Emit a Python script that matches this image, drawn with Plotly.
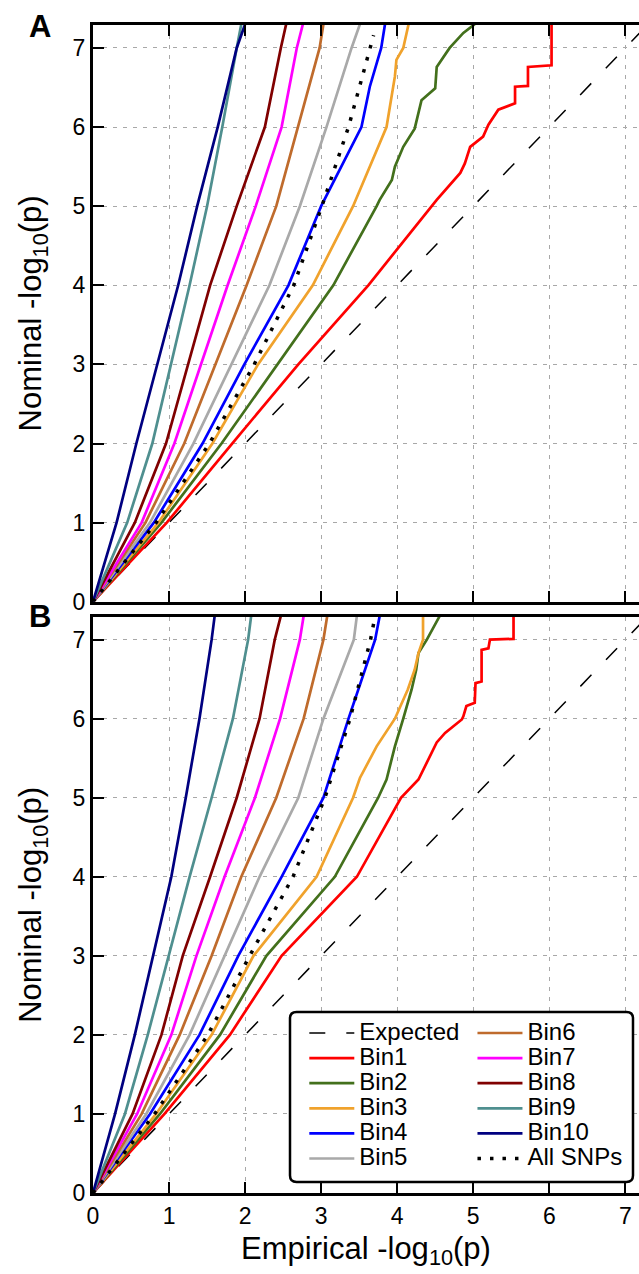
import plotly.graph_objects as go

# ---- data: empirical (x) vs nominal (y) -log10(p) quantiles ----
NOMINAL = [0, 1, 2, 3, 4, 5, 6, 7, 7.3]
EXPECTED = [0, 7.4]

# Panel A
A_BIN1_X = [0, 0.97, 1.83, 2.70, 3.62, 4.34, 4.45, 4.52, 4.83, 4.89, 4.96, 5.13, 5.20, 5.33, 5.55, 5.55, 5.72, 5.72, 6.03, 6.03]
A_BIN1_Y = [0, 1, 2, 3, 4, 4.87, 5, 5.08, 5.42, 5.54, 5.75, 5.88, 6.03, 6.22, 6.30, 6.51, 6.52, 6.76, 6.78, 7.3]
A_BIN2_X = [0, 0.90, 1.69, 2.42, 3.16, 3.73, 3.77, 3.93, 3.97, 4.08, 4.23, 4.32, 4.50, 4.52, 4.69, 4.87, 5.02]
A_BIN2_Y = [0, 1, 2, 3, 4, 5, 5.08, 5.33, 5.50, 5.75, 5.98, 6.34, 6.49, 6.76, 7.0, 7.19, 7.3]
A_BIN3_X = [0, 0.86, 1.57, 2.17, 2.89, 3.42, 3.86, 3.97, 3.99, 4.08, 4.15]
A_BIN3_Y = [0, 1, 2, 3, 4, 5, 6, 6.64, 6.85, 7, 7.3]
A_BIN4_X = [0, 0.80, 1.44, 1.99, 2.57, 3.00, 3.53, 3.64, 3.79, 3.84]
A_BIN4_Y = [0, 1, 2, 3, 4, 5, 6, 6.51, 7, 7.3]
A_BIN5 = [0, 0.75, 1.32, 1.82, 2.32, 2.72, 3.07, 3.40, 3.51]
A_BIN6 = [0, 0.69, 1.20, 1.61, 2.02, 2.41, 2.69, 2.98, 3.03]
A_BIN7 = [0, 0.64, 1.07, 1.42, 1.77, 2.14, 2.48, 2.68, 2.76]
A_BIN8 = [0, 0.55, 0.96, 1.25, 1.54, 1.89, 2.26, 2.47, 2.54]
A_BIN9 = [0, 0.45, 0.78, 1.03, 1.27, 1.50, 1.70, 1.89, 1.95]
A_BIN10 = [0, 0.31, 0.57, 0.85, 1.12, 1.37, 1.64, 1.89, 2.00]
A_ALL_X = [0, 0.83, 1.53, 2.12, 2.64, 3.01, 3.36, 3.64, 3.69]
A_ALL_Y = [0, 1, 2, 3, 4, 5, 6, 7, 7.16]

# Panel B
B_BIN1_X = [0, 0.94, 1.80, 2.48, 3.47, 4.05, 4.28, 4.34, 4.52, 4.63, 4.85, 4.87, 4.91, 5.02, 5.03, 5.11, 5.11, 5.20, 5.22, 5.53, 5.53]
B_BIN1_Y = [0, 1, 2, 3, 4, 5, 5.23, 5.35, 5.70, 5.82, 5.99, 6.03, 6.16, 6.20, 6.45, 6.47, 6.87, 6.89, 7.0, 7.01, 7.3]
B_BIN2_X = [0, 0.88, 1.67, 2.28, 3.18, 3.75, 3.86, 3.97, 4.08, 4.19, 4.25, 4.28, 4.39, 4.56]
B_BIN2_Y = [0, 1, 2, 3, 4, 5, 5.23, 5.65, 6, 6.37, 6.62, 6.83, 7, 7.3]
B_BIN3_X = [0, 0.83, 1.56, 2.11, 2.94, 3.42, 3.51, 3.73, 3.97, 4.14, 4.23, 4.28, 4.34, 4.34]
B_BIN3_Y = [0, 1, 2, 3, 4, 5, 5.25, 5.65, 6, 6.37, 6.62, 6.83, 7, 7.3]
B_BIN4 = [0, 0.75, 1.40, 1.91, 2.48, 3.03, 3.36, 3.71, 3.77]
B_BIN5 = [0, 0.70, 1.27, 1.73, 2.19, 2.70, 3.03, 3.43, 3.47]
B_BIN6 = [0, 0.64, 1.14, 1.56, 1.95, 2.41, 2.77, 3.03, 3.08]
B_BIN7 = [0, 0.58, 1.03, 1.36, 1.73, 2.13, 2.46, 2.72, 2.77]
B_BIN8 = [0, 0.52, 0.90, 1.18, 1.54, 1.89, 2.19, 2.39, 2.47]
B_BIN9 = [0, 0.42, 0.72, 0.99, 1.27, 1.56, 1.84, 2.04, 2.08]
B_BIN10 = [0, 0.29, 0.55, 0.79, 1.03, 1.22, 1.40, 1.56, 1.60]
B_ALL_X = [0, 0.81, 1.51, 2.06, 2.63, 3.05, 3.38, 3.65, 3.69]
B_ALL_Y = [0, 1, 2, 3, 4, 5, 6, 7, 7.2]

BIN_NAMES = ["Bin1", "Bin2", "Bin3", "Bin4", "Bin5", "Bin6", "Bin7", "Bin8", "Bin9", "Bin10"]
BIN_COLORS = ["#ff0000", "#43701c", "#f0a22c", "#0000ff", "#a9a9a9",
              "#bf6b2c", "#ff00ff", "#800000", "#4f8f8f", "#000080"]

panel_a = [(A_BIN1_X, A_BIN1_Y), (A_BIN2_X, A_BIN2_Y), (A_BIN3_X, A_BIN3_Y), (A_BIN4_X, A_BIN4_Y),
           (A_BIN5, NOMINAL), (A_BIN6, NOMINAL), (A_BIN7, NOMINAL), (A_BIN8, NOMINAL),
           (A_BIN9, NOMINAL), (A_BIN10, NOMINAL)]
panel_b = [(B_BIN1_X, B_BIN1_Y), (B_BIN2_X, B_BIN2_Y), (B_BIN3_X, B_BIN3_Y), (B_BIN4, NOMINAL),
           (B_BIN5, NOMINAL), (B_BIN6, NOMINAL), (B_BIN7, NOMINAL), (B_BIN8, NOMINAL),
           (B_BIN9, NOMINAL), (B_BIN10, NOMINAL)]

FONT = "Liberation Sans, Arial, sans-serif"
LEG_TXT = '<span style="font-size:24px">{}</span>'

fig = go.Figure()

for panel, (xa, ya), curves, (all_x, all_y) in [
        ("A", ("x", "y"), panel_a, (A_ALL_X, A_ALL_Y)),
        ("B", ("x2", "y2"), panel_b, (B_ALL_X, B_ALL_Y))]:
    show = panel == "B"
    fig.add_trace(go.Scatter(
        x=EXPECTED, y=EXPECTED, mode="lines", xaxis=xa, yaxis=ya,
        name=LEG_TXT.format("Expected"), showlegend=show, legend="legend",
        line=dict(color="black", width=1.5, dash="16px,21px")))
    for i, ((cx, cy), nm, col) in enumerate(zip(curves, BIN_NAMES, BIN_COLORS)):
        fig.add_trace(go.Scatter(
            x=cx, y=cy, mode="lines", xaxis=xa, yaxis=ya,
            name=LEG_TXT.format(nm), showlegend=show,
            legend="legend" if i < 5 else "legend2",
            line=dict(color=col, width=2.7)))
    fig.add_trace(go.Scatter(
        x=all_x, y=all_y, mode="lines", xaxis=xa, yaxis=ya,
        name=LEG_TXT.format("All SNPs"), showlegend=show, legend="legend2",
        line=dict(color="black", width=3.5, dash="3.5px,9px")))

axis_style = dict(
    showline=True, linewidth=3, linecolor="black",
    ticks="inside", ticklen=11, tickwidth=2, tickcolor="black",
    showgrid=True, gridcolor="#a8a8a8", gridwidth=1, griddash="4px,6px",
    zeroline=False, dtick=1, tick0=0,
    tickfont=dict(size=23, color="black", family=FONT),
)

Y_TITLE = "Nominal -log<sub>10</sub>(p)"
X_TITLE = "Empirical -log<sub>10</sub>(p)"

fig.update_layout(
    width=639, height=1274,
    margin=dict(l=93, r=0, t=25, b=81),
    paper_bgcolor="white", plot_bgcolor="white",
    font=dict(family=FONT, color="black"),
    xaxis=dict(axis_style, range=[0, 7.18], domain=[0, 1], anchor="y",
               mirror="ticks", showticklabels=False),
    yaxis=dict(axis_style, range=[0, 7.29], domain=[0.5062, 1], anchor="x",
               title=dict(text=Y_TITLE, font=dict(size=31), standoff=22)),
    xaxis2=dict(axis_style, range=[0, 7.18], domain=[0, 1], anchor="y2",
                mirror=True,
                title=dict(text=X_TITLE, font=dict(size=31), standoff=10)),
    yaxis2=dict(axis_style, range=[0, 7.29], domain=[0, 0.4934], anchor="x2",
                title=dict(text=Y_TITLE, font=dict(size=31), standoff=22)),
    legend=dict(x=0.387, y=0.152, xanchor="left", yanchor="top",
                bgcolor="rgba(0,0,0,0)", borderwidth=0, itemwidth=45,
                font=dict(size=17, family=FONT), tracegroupgap=0),
    legend2=dict(x=0.695, y=0.152, xanchor="left", yanchor="top",
                 bgcolor="rgba(0,0,0,0)", borderwidth=0, itemwidth=45,
                 font=dict(size=17, family=FONT), tracegroupgap=0),
    showlegend=True,
)

# legend frame with rounded corners (paper coordinates)
x0, x1 = 0.3608, 0.989
y0, y1 = 0.0094, 0.155
rx, ry = 0.012, 0.0055
frame = (f"M {x0+rx},{y0} L {x1-rx},{y0} Q {x1},{y0} {x1},{y0+ry} "
         f"L {x1},{y1-ry} Q {x1},{y1} {x1-rx},{y1} "
         f"L {x0+rx},{y1} Q {x0},{y1} {x0},{y1-ry} "
         f"L {x0},{y0+ry} Q {x0},{y0} {x0+rx},{y0} Z")
fig.add_shape(type="path", path=frame, xref="paper", yref="paper",
              line=dict(color="black", width=2.5), fillcolor="white", layer="above")

for label, ypos in [("A", 0.9991), ("B", 0.4932)]:
    fig.add_annotation(text=f"<b>{label}</b>", x=-0.097, y=ypos, xref="paper", yref="paper",
                       xanchor="center", yanchor="middle", showarrow=False,
                       font=dict(size=31, family=FONT, color="black"))

fig.write_html("out.html")
